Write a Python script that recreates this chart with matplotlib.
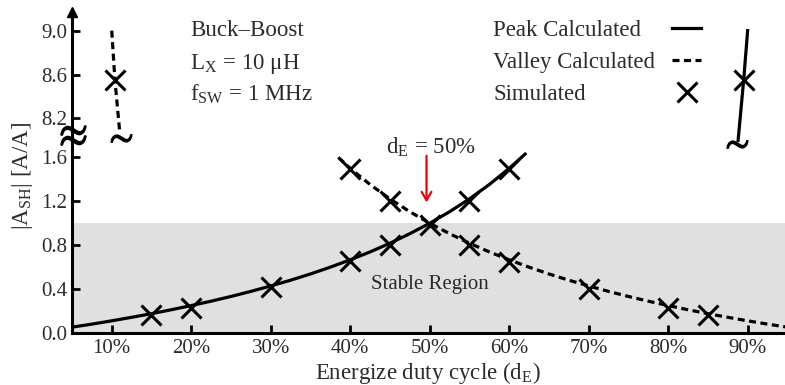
import matplotlib.pyplot as plt
import numpy as np
from matplotlib.lines import Line2D
from matplotlib.transforms import blended_transform_factory

plt.rcParams["font.family"] = ["Liberation Serif", "DejaVu Serif"]
plt.rcParams["mathtext.fontset"] = "stix"

TEXT = "#2b2b2b"

# duty cycle d_E in percent, |A_SH| in A/A
peak_x = [5, 7.5, 10, 12.5, 15, 17.5, 20, 22.5, 25, 27.5, 30, 32.5, 35, 37.5,
          40, 42.5, 45, 47.5, 50, 52.5, 55, 57.5, 60, 62]
peak_y = [0.053, 0.081, 0.111, 0.143, 0.176, 0.212, 0.25, 0.29, 0.333, 0.379,
          0.429, 0.481, 0.538, 0.6, 0.667, 0.739, 0.818, 0.905, 1.0, 1.105,
          1.222, 1.353, 1.5, 1.63]
valley_x = [38.5, 40, 42.5, 45, 47.5, 50, 52.5, 55, 57.5, 60, 62.5, 65, 67.5,
            70, 72.5, 75, 77.5, 80, 82.5, 85, 87.5, 90, 92.5, 95]
valley_y = [1.6, 1.5, 1.353, 1.222, 1.105, 1.0, 0.905, 0.818, 0.739, 0.667,
            0.6, 0.538, 0.481, 0.429, 0.379, 0.333, 0.29, 0.25, 0.212, 0.176,
            0.143, 0.111, 0.081, 0.053]

# the steep ends that only show above the axis break
peak_hi_x = [88.8, 89.5, 90.0]
peak_hi_y = [8.0, 8.55, 9.0]
valley_hi_x = [10.0, 10.4, 11.0]
valley_hi_y = [9.0, 8.55, 8.08]
cut_x = [11.2, 88.6]
cut_y = [8.02, 7.97]

sim_x = [15, 20, 30, 40, 45, 50, 55, 60, 89.5,
         10.4, 40, 45, 55, 60, 70, 80, 85]
sim_y = [0.16, 0.23, 0.42, 0.66, 0.80, 0.98, 1.20, 1.49, 8.55,
         8.55, 1.49, 1.20, 0.80, 0.65, 0.40, 0.23, 0.16]

x_ticks = [10, 20, 30, 40, 50, 60, 70, 80, 90]
x_labels = [f"{v}%" for v in x_ticks]
y_ticks = [0.0, 0.4, 0.8, 1.2, 1.6, 8.2, 8.6, 9.0]

# broken y axis: squeeze 1.66..7.95 into a short gap
BREAK_REAL = [0.0, 1.66, 7.95, 10.0]
BREAK_SHOWN = [0.0, 1.66, 1.705, 3.755]


def fwd(y):
    return np.interp(y, BREAK_REAL, BREAK_SHOWN)


def inv(y):
    return np.interp(y, BREAK_SHOWN, BREAK_REAL)


fig = plt.figure(figsize=(7.85, 3.85), dpi=100)
ax = fig.add_axes([72 / 785, 52 / 385, 1 - 72 / 785, 321 / 385])
ax.set_yscale("function", functions=(fwd, inv))
ax.set_xlim(5, 94.7)
ax.set_ylim(0, 9.17)

ax.axhspan(0, 1.0, color="#e0e0e0", lw=0, zorder=0)

lw = 2.3
dots = (0, (2.2, 1.4))
ax.plot(peak_x, peak_y, color="k", lw=lw, label="Peak Calculated")
ax.plot(valley_x, valley_y, color="k", lw=lw, ls=dots,
        label="Valley Calculated")
ax.plot(peak_hi_x, peak_hi_y, color="k", lw=lw)
ax.plot(valley_hi_x, valley_hi_y, color="k", lw=lw, ls=dots)
ax.plot(cut_x, cut_y, ls="none", marker=r"$\sim$", ms=15, color="k")
ax.plot(sim_x, sim_y, ls="none", marker="x", ms=15, mew=2.2, color="k",
        label="Simulated")

for side in ("top", "right"):
    ax.spines[side].set_visible(False)
for side in ("left", "bottom"):
    ax.spines[side].set_linewidth(2.2)

ax.set_xticks(x_ticks)
ax.set_xticklabels(x_labels)
ax.set_yticks(y_ticks)
ax.set_yticklabels([f"{v:.1f}" for v in y_ticks])
ax.yaxis.set_minor_locator(plt.NullLocator())
ax.tick_params(direction="in", length=6, width=2, labelsize=15,
               labelcolor=TEXT)
ax.tick_params(axis="y", pad=3.5)
ax.tick_params(axis="x", pad=4.5)

# arrow head on the y axis and the break mark on the spine
ax.plot(0, 1, marker="^", ms=7, color="k", transform=ax.transAxes,
        clip_on=False)
trans = blended_transform_factory(ax.transAxes, ax.transData)
ax.plot(0.002, 8.05, marker=r"$\approx$", ms=18, color="k", transform=trans,
        clip_on=False)

ax.set_xlabel(r"Energize duty cycle (d$_\mathregular{E}$)", fontsize=16.5,
              color=TEXT, labelpad=1)
ax.set_ylabel(r"|A$_\mathregular{SH}$| [A/A]", fontsize=16.5, color=TEXT)
ax.yaxis.set_label_coords(-0.052, 0.49)

ax.text(19.85, 8.95, "Buck\u2013Boost", fontsize=16.5, color=TEXT,
        va="baseline")
ax.text(19.85, 8.65, "L$_\\mathregular{X}$ = 10 \u03bcH", fontsize=16.5,
        color=TEXT, va="baseline")
ax.text(19.85, 8.37, r"f$_\mathregular{SW}$ = 1 MHz", fontsize=16.5,
        color=TEXT, va="baseline")

ax.text(50.2, 1.64, r"d$_\mathregular{E}$ = 50%", fontsize=16.5, color=TEXT,
        ha="center", va="baseline")
ax.annotate("", xy=(49.6, 1.19), xytext=(49.6, 1.615),
            arrowprops=dict(arrowstyle="->,head_length=0.6,head_width=0.35",
                            color="#e8000b", lw=1.6, shrinkA=0, shrinkB=0))
ax.text(50.0, 0.44, "Stable Region", fontsize=15, color=TEXT, ha="center",
        va="center")

# legend: labels flush left, keys in a column on the right
handles, labels = ax.get_legend_handles_labels()
leg_kw = dict(frameon=False, fontsize=16.5, labelspacing=0.47,
              borderpad=0.4, borderaxespad=0, bbox_transform=fig.transFigure)
blank = [Line2D([], [], ls="none") for _ in handles]
leg_text = ax.legend(blank, labels, loc="upper left",
                     bbox_to_anchor=(484 / 785, 374 / 385), labelcolor=TEXT,
                     handlelength=0, handletextpad=0, **leg_kw)
ax.add_artist(leg_text)
ax.legend(handles, [" "] * len(handles), loc="upper right",
          bbox_to_anchor=(710 / 785, 374 / 385), markerfirst=False,
          handlelength=1.25, handletextpad=0, **leg_kw)

fig.savefig("out.png", dpi=100)
